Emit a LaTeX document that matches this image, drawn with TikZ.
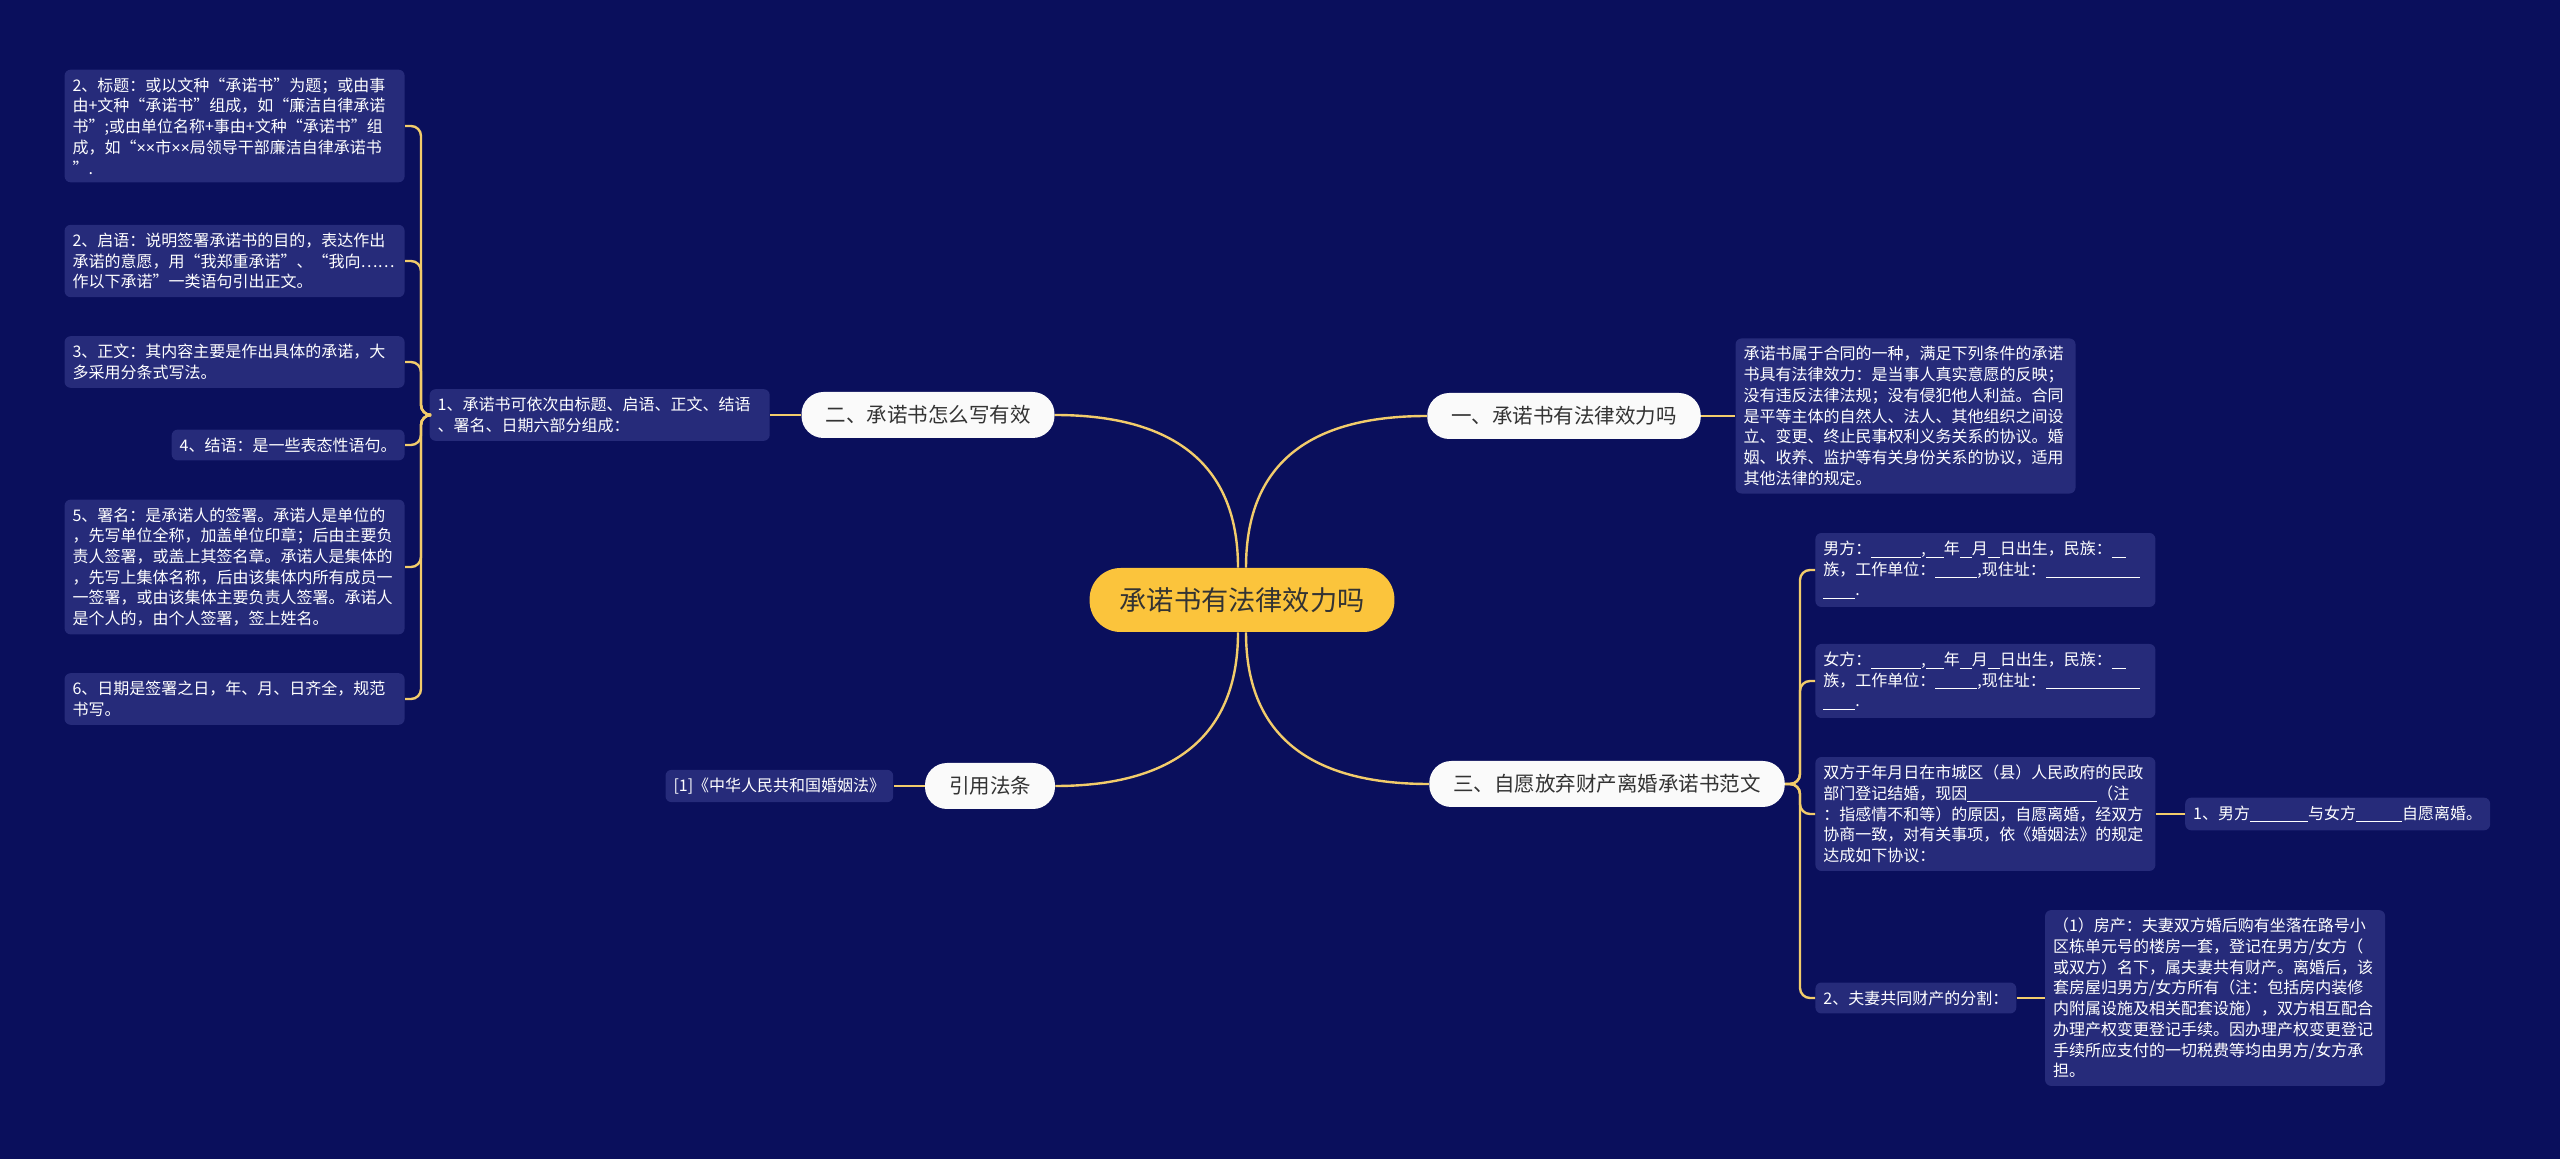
\documentclass[tikz,border=0pt]{standalone}
\usepackage{fontspec}
\setmainfont{Noto Sans CJK SC}
\newfontfamily\latinfont{Liberation Sans}
\usetikzlibrary{positioning}
\definecolor{bgnavy}{HTML}{0A0F5C}
\definecolor{leafblue}{HTML}{262B7A}
\definecolor{linegold}{HTML}{F2CC6B}
\definecolor{hubgold}{HTML}{FBC43C}
\definecolor{inkgray}{HTML}{333333}
\newcommand{\blankfill}[1]{\rule[-1.5pt]{#1}{0.5pt}}

\begin{document}
\begin{tikzpicture}[x=0.5pt, y=-0.5pt,
    hub/.style={fill=hubgold, rounded corners=15.5pt, minimum height=32pt, inner xsep=15pt, text=inkgray, font=\fontsize{13.6}{16}\selectfont},
    topic/.style={fill=white!96!gray, rounded corners=11pt, minimum height=23pt, inner xsep=12pt, text=inkgray, font=\fontsize{10.25}{12}\selectfont},
    leaf/.style={fill=leafblue, rounded corners=3pt, inner xsep=4pt, inner ysep=4pt, align=left, text=white, font=\fontsize{8}{10.35}\selectfont},
    wide/.style={leaf, text width=162pt},
    branch/.style={draw=linegold, line width=1.2pt},
    fork/.style={branch, rounded corners=5pt}
  ]
    \fill[bgnavy] (0,0) rectangle (2560,1159);
    \node[hub] (hub) at (1242,600) {承诺书有法律效力吗};
    \node[topic] (b1) at (1564,416) {一、承诺书有法律效力吗};
    \node[topic] (b2) at (928,415) {二、承诺书怎么写有效};
    \node[topic] (b3) at (1607,784) {三、自愿放弃财产离婚承诺书范文};
    \node[topic] (cite) at (990,786) {引用法条};
    \node[wide, right=17pt of b1] (law) {承诺书属于合同的一种，满足下列条件的承诺\\书具有法律效力：是当事人真实意愿的反映；\\没有违反法律法规；没有侵犯他人利益。合同\\是平等主体的自然人、法人、其他组织之间设\\立、变更、终止民事权利义务关系的协议。婚\\姻、收养、监护等有关身份关系的协议，适用\\其他法律的规定。};
    \node[wide, left=15.5pt of b2] (parts) {1、承诺书可依次由标题、启语、正文、结语\\、署名、日期六部分组成：};
    \node[wide, anchor=east] (s1) at (405,126) {2、标题：或以文种“承诺书”为题；或由事\\由+文种“承诺书”组成，如“廉洁自律承诺\\书”;或由单位名称+事由+文种“承诺书”组\\成，如“{\latinfont ××}市{\latinfont ××}局领导干部廉洁自律承诺书\\”.};
    \node[wide, anchor=east] (s2) at (405,261) {2、启语：说明签署承诺书的目的，表达作出\\承诺的意愿，用“我郑重承诺”、“我向……\\作以下承诺”一类语句引出正文。};
    \node[wide, anchor=east] (s3) at (405,362) {3、正文：其内容主要是作出具体的承诺，大\\多采用分条式写法。};
    \node[leaf, anchor=east] (s4) at (405,445) {4、结语：是一些表态性语句。};
    \node[wide, anchor=east] (s5) at (405,567) {5、署名：是承诺人的签署。承诺人是单位的\\，先写单位全称，加盖单位印章；后由主要负\\责人签署，或盖上其签名章。承诺人是集体的\\，先写上集体名称，后由该集体内所有成员一\\一签署，或由该集体主要负责人签署。承诺人\\是个人的，由个人签署，签上姓名。};
    \node[wide, anchor=east] (s6) at (405,699) {6、日期是签署之日，年、月、日齐全，规范\\书写。};
    \node[leaf, left=15.5pt of cite] (marriage) {[1]《中华人民共和国婚姻法》};
    \node[wide, anchor=west] (m1) at (1815,570) {男方：\blankfill{25pt},\blankfill{9pt}年\blankfill{6pt}月\blankfill{6pt}日出生，民族：\blankfill{7pt}\\族，工作单位：\blankfill{21pt},现住址：\blankfill{47pt}\\\blankfill{16pt}.};
    \node[wide, anchor=west] (m2) at (1815,681) {女方：\blankfill{25pt},\blankfill{9pt}年\blankfill{6pt}月\blankfill{6pt}日出生，民族：\blankfill{7pt}\\族，工作单位：\blankfill{21pt},现住址：\blankfill{47pt}\\\blankfill{16pt}.};
    \node[wide, anchor=west] (m3) at (1815,814) {双方于年月日在市城区（县）人民政府的民政\\部门登记结婚，现因\blankfill{65pt}（注\\：指感情不和等）的原因，自愿离婚，经双方\\协商一致，对有关事项，依《婚姻法》的规定\\达成如下协议：};
    \node[leaf, anchor=west] (m4) at (1815,998) {2、夫妻共同财产的分割：};
    \node[leaf, right=14.5pt of m3] (agree) {1、男方\blankfill{29pt}与女方\blankfill{23pt}自愿离婚。};
    \node[wide, right=14pt of m4] (house) {（1）房产：夫妻双方婚后购有坐落在路号小\\区栋单元号的楼房一套，登记在男方/女方（\\或双方）名下，属夫妻共有财产。离婚后，该\\套房屋归男方/女方所有（注：包括房内装修\\内附属设施及相关配套设施），双方相互配合\\办理产权变更登记手续。因办理产权变更登记\\手续所应支付的一切税费等均由男方/女方承\\担。};
    \draw[branch] ([xshift=-2pt]hub.north) .. controls +(0,-110) and +(110,0) .. (b2.east);
    \draw[branch] ([xshift=2pt]hub.north) .. controls +(0,-110) and +(-110,0) .. (b1.west);
    \draw[branch] ([xshift=-2pt]hub.south) .. controls +(0,110) and +(110,0) .. (cite.east);
    \draw[branch] ([xshift=2pt]hub.south) .. controls +(0,110) and +(-110,0) .. (b3.west);
    \draw[branch] (b1.east) -- (law.west);
    \draw[branch] (b2.west) -- (parts.east);
    \draw[branch] (cite.west) -- (marriage.east);
    \draw[branch] (m3.east) -- (agree.west);
    \draw[branch] (m4.east) -- (house.west);
    \foreach \n in {s1,s2,s3,s4,s5,s6}
      \draw[fork] (parts.west) -| ([xshift=8pt]\n.east) -- (\n.east);
    \foreach \n in {m1,m2,m3,m4}
      \draw[fork] (b3.east) -| ([xshift=-7.5pt]\n.west) -- (\n.west);
  \end{tikzpicture}
\end{document}
